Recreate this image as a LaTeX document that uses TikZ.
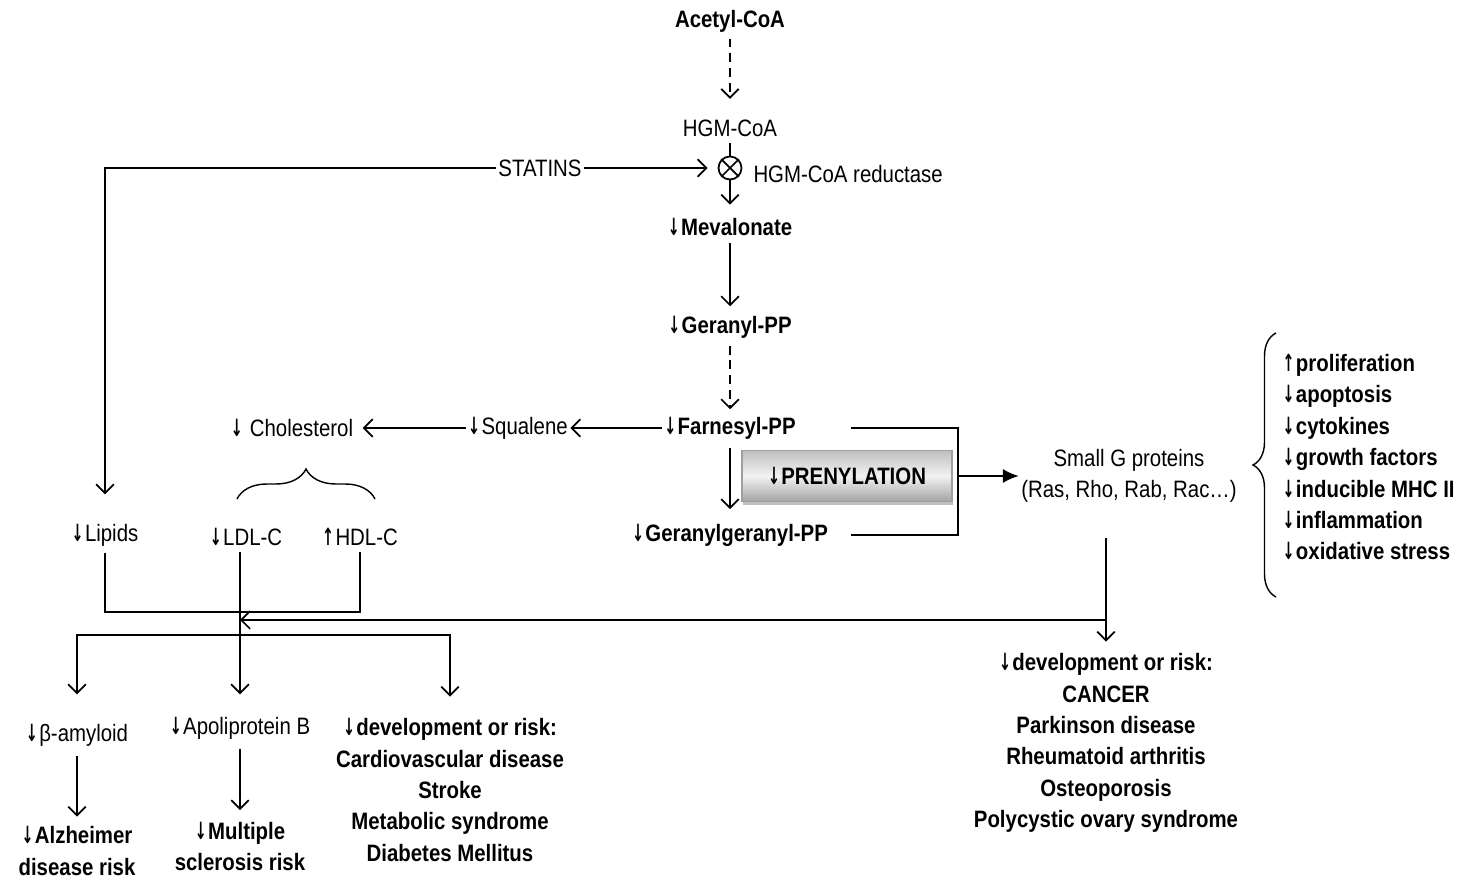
\documentclass[tikz,border=0pt]{standalone}
\usepackage{fontspec}
\setmainfont{Liberation Sans}[FakeStretch=0.86]
\newfontfamily\arrfont{DejaVu Sans}[FakeStretch=0.6]
\newcommand\arrdown{{\arrfont\bfseries ↓}\kern0.8pt}
\newcommand\arrup{{\arrfont\bfseries ↑}\kern0.8pt}
\usepackage{tikz}
\usetikzlibrary{shapes,arrows.meta}
\usetikzlibrary{positioning}
\usetikzlibrary{decorations.pathreplacing}
\usetikzlibrary{shadows}
\usepackage{xcolor}

\begin{document}
\fontsize{13.5pt}{17.9pt}\selectfont
\begin{tikzpicture}[x=0.02cm, y=-0.02cm, line width=1pt, inner sep=1pt,
  >={Straight Barb[length=5pt,width=10pt]},
  met/.style={font=\bfseries},
  broken/.style={dash pattern=on 5pt off 3.4pt},
  prenbox/.style={rectangle, draw=gray!75, minimum width=4.2cm, minimum height=1.02cm,
    top color=gray!50, bottom color=gray!72, middle color=gray!10,
    drop shadow={opacity=0.5, shadow xshift=0.8pt, shadow yshift=-2pt}, font=\bfseries},
  bracestyle/.style={decorate, line width=0.8pt}]
  \useasboundingbox (0,0) rectangle (1465,881);

  % Mevalonate pathway
  \node[met] (acetyl) at (730,21) {Acetyl-CoA};
  \node (hmg) at (730,128) {HGM-CoA};
  \node[draw, circle, minimum size=0.46cm, inner sep=0pt] (inh) at (730,168) {};
  \draw (inh.north west) -- (inh.south east) (inh.north east) -- (inh.south west);
  \node[right=0.17cm of inh, yshift=-0.12cm] (reductase) {HGM-CoA reductase};
  \node (statins) at (540,168) {STATINS};
  \node[met] (meval) at (730,227) {\arrdown Mevalonate};
  \node[met] (geranyl) at (730,327) {\arrdown Geranyl-PP};
  \node[met] (farnesyl) at (730,428) {\arrdown Farnesyl-PP};
  \node (squalene) at (518,428) {\arrdown Squalene};
  \node (chol) at (292,428) {\arrdown{} Cholesterol};
  \node[met] (ggpp) at (730,535) {\arrdown Geranylgeranyl-PP};

  \draw[->, broken, shorten <=0.08cm, shorten >=0.36cm] (acetyl) -- (hmg);
  \draw[shorten <=0.08cm] (hmg) -- (inh);
  \draw[->, shorten >=0.22cm] (inh) -- (meval);
  \draw[->, shorten >=0.2cm] (statins) -- (inh);
  \path[->]
  (meval) edge[shorten <=0.1cm, shorten >=0.14cm] (geranyl)
  (geranyl) edge[broken, shorten <=0.1cm, shorten >=0.1cm] (farnesyl)
  (farnesyl) edge (squalene)
  (squalene) edge[shorten >=0.14cm] (chol)
  (farnesyl) edge[shorten <=0.12cm, shorten >=0.24cm] (ggpp);

  % Prenylation and small G proteins
  \node[prenbox] (prenyl) at (847,476) {\arrdown PRENYLATION};
  \coordinate (brk) at (958,476);
  \node[align=center] (smallg) at (1129,476) {Small G proteins\\(Ras, Rho, Rab, Rac…)};
  \node[met, align=left, anchor=west] (effects) at (1280,457)
    {\arrup proliferation\\\arrdown apoptosis\\\arrdown cytokines\\\arrdown growth factors\\\arrdown inducible MHC II\\\arrdown inflammation\\\arrdown oxidative stress};
  \draw ([xshift=1.05cm]farnesyl.east) -| (brk) |- ([xshift=0.4cm]ggpp.east);
  \draw[-{Latex[length=9pt,width=8pt]}] (brk) -- (smallg);
  \draw[bracestyle, decoration={brace, amplitude=0.46cm}] (1276,597) -- (1276,333);

  % Lipids
  \node (lipids) at (105,535) {\arrdown Lipids};
  \node (ldl) at (246,537) {\arrdown LDL-C};
  \node (hdl) at (360,537) {\arrup HDL-C};
  \draw[bracestyle, decoration={brace, amplitude=0.6cm}] (237,499) -- (375,499);
  \draw[->, shorten >=0.54cm] (statins.west) -| (lipids.north);

  % Outcomes
  \node (amyloid) at (77,735) {\arrdown β-amyloid};
  \node[met, align=center, below=1.5cm of amyloid] (alz) {\arrdown Alzheimer\\disease risk};
  \node (apob) at (240,728) {\arrdown Apoliprotein B};
  \node[met, align=center, below=1.55cm of apob] (ms) {\arrdown Multiple\\sclerosis risk};
  \node[met, align=center] (cvd) at (450,790)
    {\arrdown development or risk:\\Cardiovascular disease\\Stroke\\Metabolic syndrome\\Diabetes Mellitus};
  \node[met, align=center] (cancer) at (1106,743)
    {\arrdown development or risk:\\CANCER\\Parkinson disease\\Rheumatoid arthritis\\Osteoporosis\\Polycystic ovary syndrome};

  \coordinate (lh) at (240,612);
  \coordinate (jr) at (1106,620);
  \coordinate (jb) at (240,635);
  \draw[shorten <=0.08cm, shorten >=0.08cm] (lipids.south) |- (lh) -| (hdl.south);
  \draw[->, shorten <=0.08cm, shorten >=0.4cm] (ldl.south -| apob.north) -- (apob.north);
  \draw[->, shorten <=0.66cm, shorten >=0.18cm] (smallg.south -| cancer.north) -- (cancer.north);
  \draw[->] (jr) -- (jr -| apob.north);
  \draw[->, shorten >=0.54cm] (jb) -| (amyloid.north);
  \draw[->, shorten >=0.38cm] (jb) -| (cvd.north);
  \draw[->, shorten <=0.14cm, shorten >=0.14cm] (amyloid) -- (alz);
  \draw[->, shorten <=0.14cm, shorten >=0.18cm] (apob) -- (ms);
\end{tikzpicture}
\end{document}
